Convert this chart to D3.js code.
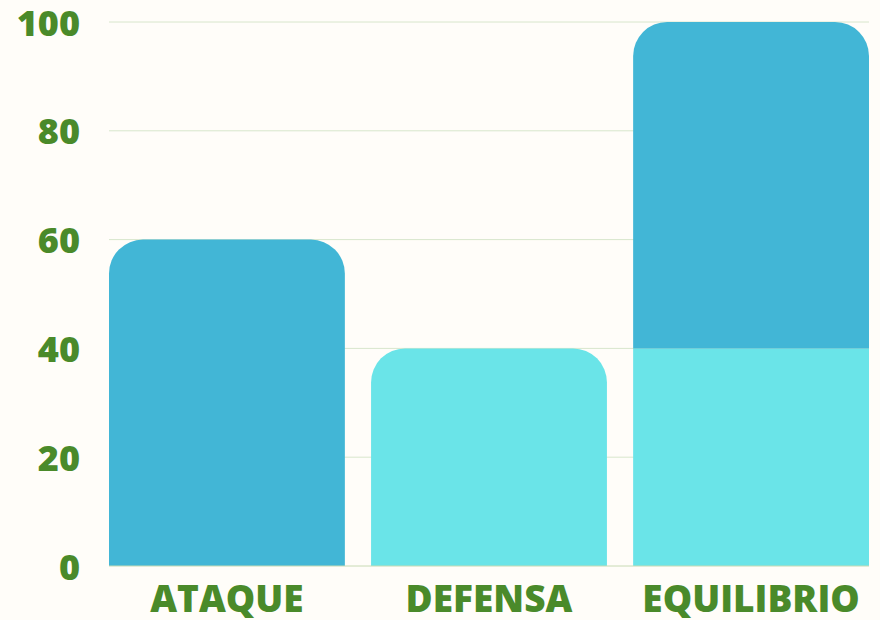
<!DOCTYPE html>
<html><head><meta charset="utf-8">
<script src="https://cdn.jsdelivr.net/npm/d3@7"></script>
<style>
html,body{margin:0;padding:0;background:#fffdf9;}
svg{display:block;}
text{font-family:"Open Sans",sans-serif;font-weight:800;fill:#4a8a2a;}
</style></head>
<body>
<svg id="chart" width="880" height="620"></svg>
<script>
const categories = ["ATAQUE", "DEFENSA", "EQUILIBRIO"];
const seriesNames = ["Defensa", "Ataque"];
const defensaValues = [0, 40, 40];
const ataqueValues = [60, 0, 60];
const yTicks = [0, 20, 40, 60, 80, 100];
const colors = ["#6ae4e8", "#42b6d6"];

const svg = d3.select("#chart");
const x = d3.scaleBand().domain(categories).range([109, 869]).paddingInner(0.1).paddingOuter(0);
const y = d3.scaleLinear().domain([0, 100]).range([566, 22]);

// grid
svg.append("g").selectAll("line").data(yTicks.filter(d => d > 0)).join("line")
  .attr("x1", 109).attr("x2", 869)
  .attr("y1", d => y(d)).attr("y2", d => y(d))
  .attr("stroke", "#d8e6cc").attr("stroke-width", 1);

const rows = categories.map((c, i) => ({cat: c, Defensa: defensaValues[i], Ataque: ataqueValues[i]}));
const stack = d3.stack().keys(seriesNames)(rows);
const R = 34;

function arcPath(x0, w, yTop, yBot, rounded) {
  const r = rounded ? Math.min(R, w / 2, (yBot - yTop)) : 0;
  if (!r) return `M${x0},${yBot}L${x0},${yTop}L${x0+w},${yTop}L${x0+w},${yBot}Z`;
  return `M${x0},${yBot} L${x0},${yTop + r} A${r},${r} 0 0 1 ${x0 + r},${yTop} L${x0 + w - r},${yTop} A${r},${r} 0 0 1 ${x0 + w},${yTop + r} L${x0 + w},${yBot} Z`;
}

stack.forEach((s, si) => {
  svg.append("g").selectAll("path").data(s.filter(d => d[1] > d[0])).join("path")
    .attr("fill", colors[si])
    .attr("d", d => {
      const idx = categories.indexOf(d.data.cat);
      const top = stack.every((s2, j) => j <= si || s2[idx][1] === s2[idx][0]);
      return arcPath(x(d.data.cat), x.bandwidth(), y(d[1]), y(d[0]), top);
    });
});

// baseline
svg.append("line").attr("x1", 109).attr("x2", 869).attr("y1", y(0)).attr("y2", y(0))
  .attr("stroke", "#c8dab4").attr("stroke-width", 1);

// y labels
svg.append("g").selectAll("text").data(yTicks).join("text")
  .attr("x", 80).attr("y", d => y(d)).attr("text-anchor", "end")
  .attr("dominant-baseline", "central").attr("font-size", 36).text(d => d);

// x labels
svg.append("g").selectAll("text").data(categories).join("text")
  .attr("x", d => x(d) + x.bandwidth() / 2).attr("y", 612).attr("text-anchor", "middle")
  .attr("font-size", 37).text(d => d);
</script>
</body></html>
